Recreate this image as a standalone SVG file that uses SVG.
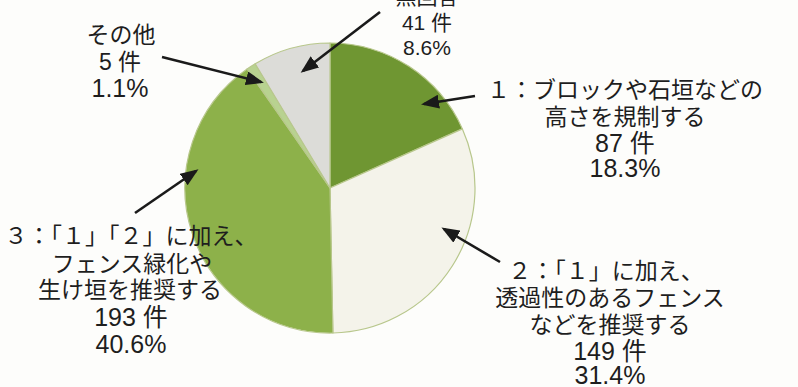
<svg xmlns="http://www.w3.org/2000/svg" width="798" height="387" viewBox="0 0 798 387">
  <defs>
    <marker id="arrow" markerUnits="userSpaceOnUse" markerWidth="18" markerHeight="14" refX="15" refY="7" orient="auto">
      <path d="M0,0 L18,7 L0,14 Z" fill="#1a1a1a"/>
    </marker>
  </defs>
  <style>
    .slice { stroke: #b8c78c; stroke-width: 1.2; stroke-linejoin: round; }
    .lbl { font-family: "Liberation Sans", "Noto Sans CJK JP", sans-serif; fill: #1e1e1e; text-anchor: middle; }
    .jp { font-size: 23px; }
    .num { font-size: 25px; }
    .sm { font-size: 21px; }
    .conn line { stroke: #1a1a1a; stroke-width: 2.6; marker-end: url(#arrow); }
  </style>
  <rect width="798" height="387" fill="#fdfdfb"/>

  <g id="slice-1">
    <path class="slice" d="M330,188 L330,43 A145,145 0 0 1 462.4,128.9 Z" fill="#6f9632"/>
    <text class="lbl jp" x="625" y="98">１：ブロックや石垣などの</text>
    <text class="lbl jp" x="625" y="125">高さを規制する</text>
    <text class="lbl num" x="625" y="152">87 件</text>
    <text class="lbl num" x="625" y="177">18.3%</text>
  </g>

  <g id="slice-2">
    <path class="slice" d="M330,188 L462.4,128.9 A145,145 0 0 1 332.9,333 Z" fill="#f4f3ea" stroke="#9fb062"/>
    <text class="lbl jp" x="606" y="279">２：「１」に加え、</text>
    <text class="lbl jp" x="610" y="306">透過性のあるフェンス</text>
    <text class="lbl jp" x="610" y="333">などを推奨する</text>
    <text class="lbl num" x="610" y="360">149 件</text>
    <text class="lbl num" x="610" y="384">31.4%</text>
  </g>

  <g id="slice-3">
    <path class="slice" d="M330,188 L332.9,333 A145,145 0 0 1 247.1,69 Z" fill="#8db14a"/>
    <text class="lbl jp" x="131" y="244">３：「１」「２」に加え、</text>
    <text class="lbl jp" x="132" y="272">フェンス緑化や</text>
    <text class="lbl jp" x="130" y="298">生け垣を推奨する</text>
    <text class="lbl num" x="131" y="326">193 件</text>
    <text class="lbl num" x="131" y="353">40.6%</text>
  </g>

  <g id="slice-other">
    <path class="slice" d="M330,188 L247.1,69 A145,145 0 0 1 255.2,63.8 Z" fill="#b8d290"/>
    <text class="lbl jp" x="121" y="43">その他</text>
    <text class="lbl num" x="120" y="70" style="font-size:23px">5 件</text>
    <text class="lbl num" x="120" y="97">1.1%</text>
  </g>

  <g id="slice-noanswer">
    <path class="slice" d="M330,188 L255.2,63.8 A145,145 0 0 1 330,43 Z" fill="#dcdcd8"/>
    <text class="lbl sm" x="427" y="4">無回答</text>
    <text class="lbl sm" x="427" y="30">41 件</text>
    <text class="lbl sm" x="427" y="55">8.6%</text>
  </g>

  <g id="connectors" class="conn">
    <line x1="380" y1="12" x2="303" y2="71"/>
    <line x1="162" y1="57" x2="261" y2="82"/>
    <line x1="475" y1="96" x2="424" y2="104"/>
    <line x1="500" y1="262" x2="444" y2="229"/>
    <line x1="135" y1="213" x2="196" y2="171"/>
  </g>
</svg>
